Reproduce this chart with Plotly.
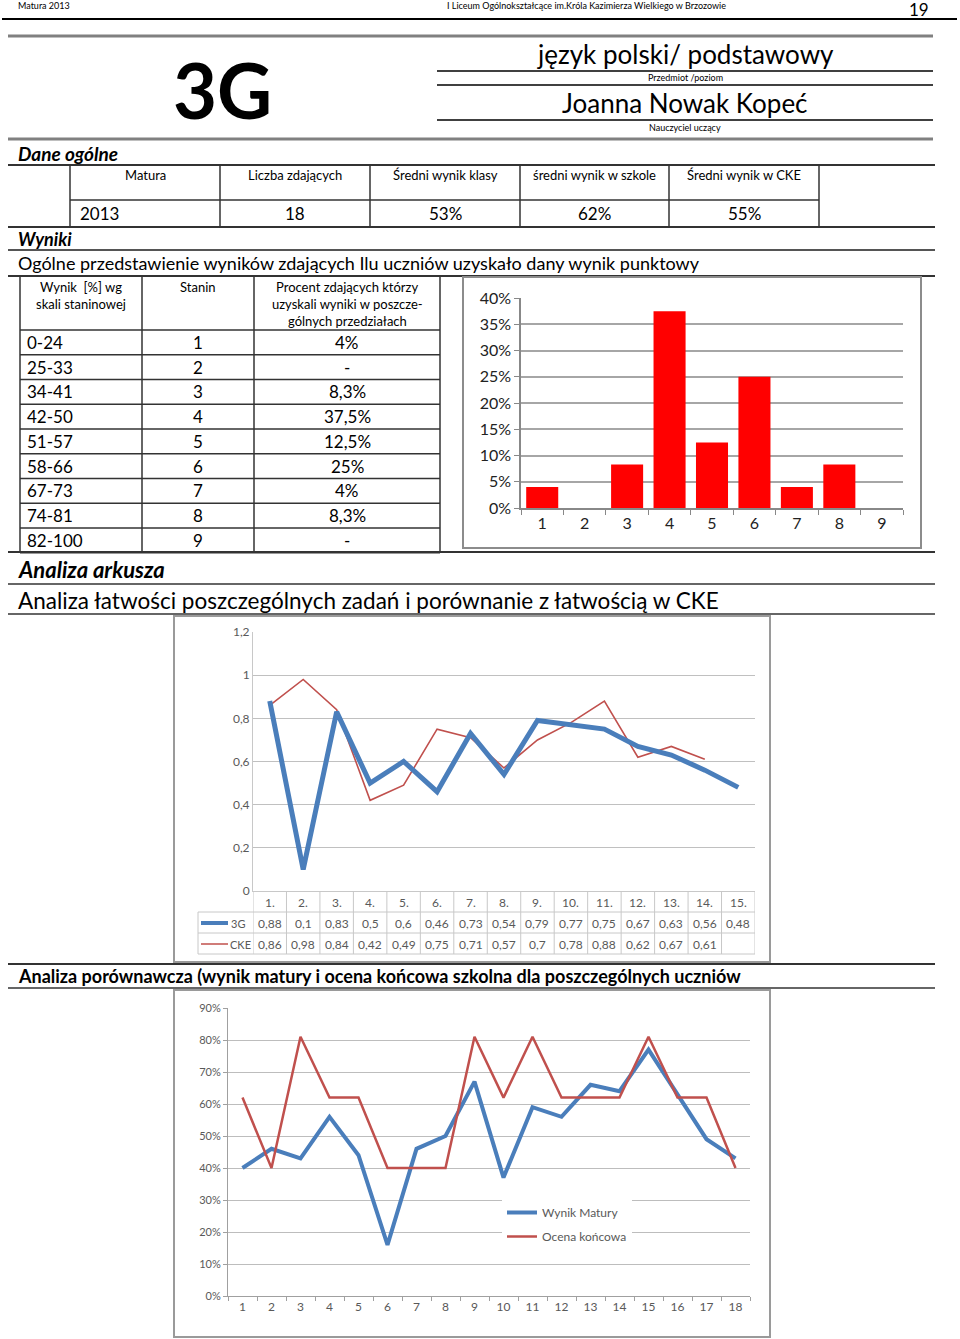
import plotly.graph_objects as go

W, H = 960, 1339
FONT = "Lato"

# ---------------- data ----------------
page_left = "Matura 2013"
page_center = "I Liceum Ogólnokształcące im.Króla Kazimierza Wielkiego w Brzozowie"
page_no = "19"
class_name = "3G"
subject = "język polski/ podstawowy"
subject_lbl = "Przedmiot /poziom"
teacher = "Joanna Nowak Kopeć"
teacher_lbl = "Nauczyciel uczący"

gen_headers = ["Matura", "Liczba zdających", "Średni wynik klasy", "średni wynik w szkole", "Średni wynik w CKE"]
gen_values = ["2013", "18", "53%", "62%", "55%"]

stanine_ranges = ["0-24", "25-33", "34-41", "42-50", "51-57", "58-66", "67-73", "74-81", "82-100"]
stanines = ["1", "2", "3", "4", "5", "6", "7", "8", "9"]
stanine_pct_text = ["4%", "-", "8,3%", "37,5%", "12,5%", "25%", "4%", "8,3%", "-"]
stanine_pct = [4, None, 8.3, 37.5, 12.5, 25, 4, 8.3, None]

tasks = ["1.", "2.", "3.", "4.", "5.", "6.", "7.", "8.", "9.", "10.", "11.", "12.", "13.", "14.", "15."]
ease_3g = [0.88, 0.1, 0.83, 0.5, 0.6, 0.46, 0.73, 0.54, 0.79, 0.77, 0.75, 0.67, 0.63, 0.56, 0.48]
ease_cke = [0.86, 0.98, 0.84, 0.42, 0.49, 0.75, 0.71, 0.57, 0.7, 0.78, 0.88, 0.62, 0.67, 0.61, None]

students = [str(i) for i in range(1, 19)]
wynik_matury = [40, 46, 43, 56, 44, 16, 46, 50, 67, 37, 59, 56, 66, 64, 77, 63, 49, 43]
ocena_koncowa = [62, 40, 81, 62, 62, 40, 40, 40, 81, 62, 81, 62, 62, 62, 81, 62, 62, 40]

BLUE = "#4A7EBB"
RED = "#C0504D"
TXT = "#595959"
TGRID = "#C8C8C8"

# ---------------- helpers ----------------
def px(x):
    return x / W

def py(y):
    return 1 - y / H

shapes = []
ann = []

def hline(y, x0, x1, color="#000", width=1):
    shapes.append(dict(type="line", xref="paper", yref="paper", x0=px(x0), x1=px(x1),
                       y0=py(y), y1=py(y), line=dict(color=color, width=width)))

def vline(x, y0, y1, color="#000", width=1):
    shapes.append(dict(type="line", xref="paper", yref="paper", x0=px(x), x1=px(x),
                       y0=py(y0), y1=py(y1), line=dict(color=color, width=width)))

def rect(x0, y0, x1, y1, color="#8C8C8C", width=2):
    shapes.append(dict(type="rect", xref="paper", yref="paper", x0=px(x0), x1=px(x1),
                       y0=py(y1), y1=py(y0), line=dict(color=color, width=width)))

def text(x, y, s, size, anchor="left", color="#000", family=FONT, yanchor="middle"):
    ann.append(dict(x=px(x), y=py(y), xref="paper", yref="paper", text=s, showarrow=False,
                    xanchor=anchor, yanchor=yanchor, font=dict(size=size, color=color, family=family)))

fig = go.Figure()

# ---------------- page header ----------------
text(16, 6, page_left, 9)
text(586, 6, page_center, 9, anchor="center")
text(919, 10, page_no, 17, anchor="center")
hline(19, 2, 957, "#000", 2)

hline(36, 8, 933, "#808080", 3)
text(222, 90, "<b>" + class_name + "</b>", 76, anchor="center")
text(685, 54, subject, 26, anchor="center")
hline(71, 437, 933, "#000", 1.5)
text(685, 78, subject_lbl, 9, anchor="center")
hline(85, 437, 933, "#000", 1.5)
text(685, 103, teacher, 26, anchor="center")
hline(120, 437, 933, "#000", 1.5)
text(685, 127, teacher_lbl, 9, anchor="center")
hline(139, 8, 933, "#808080", 3)

# ---------------- Dane ogólne ----------------
text(16, 153, "<b><i>Dane ogólne</i></b>", 19)
hline(165, 8, 935, "#333", 2)
cols = [70, 220, 370, 520, 669, 819]
for x in cols:
    vline(x, 165, 227, "#333", 1.5)
hline(200, 70, 819, "#333", 1.5)
hline(227, 8, 935, "#333", 2)
for i, (h, v) in enumerate(zip(gen_headers, gen_values)):
    xc = (cols[i] + cols[i + 1]) / 2
    text(xc, 175, h, 13, anchor="center")
    if i == 0:
        text(cols[i] + 8, 213, v, 17)
    else:
        text(xc, 213, v, 17, anchor="center")

# ---------------- Wyniki ----------------
text(16, 239, "<b><i>Wyniki</i></b>", 18)
hline(250, 8, 935, "#555", 2)
text(16, 263, "Ogólne przedstawienie wyników zdających Ilu uczniów uzyskało dany wynik punktowy", 18)
hline(276, 8, 935, "#333", 2)

# stanine table
tcols = [20, 142, 254, 440]
row0 = 330
rh = 24.75
for x in tcols:
    vline(x, 277, row0 + 9 * rh, "#333", 1.5)
hline(row0, 20, 440, "#333", 1.5)
for r in range(1, 10):
    hline(row0 + r * rh, 20, 440, "#333", 1.5)
text(81, 287, "Wynik  [%] wg", 13, anchor="center")
text(81, 304, "skali staninowej", 13, anchor="center")
text(198, 287, "Stanin", 13, anchor="center")
text(347, 287, "Procent zdających którzy", 13, anchor="center")
text(347, 304, "uzyskali wyniki w poszcze-", 13, anchor="center")
text(347, 321, "gólnych przedziałach", 13, anchor="center")
for r in range(9):
    yc = row0 + (r + 0.5) * rh
    text(25, yc, stanine_ranges[r], 17)
    text(198, yc, stanines[r], 17, anchor="center")
    text(347, yc, stanine_pct_text[r], 17, anchor="center")

# bar chart frame
rect(463, 277, 921, 548, "#8C8C8C", 2)
fig.add_trace(go.Bar(x=stanines, y=stanine_pct, marker=dict(color="#FF0000", line=dict(width=0)),
                     xaxis="x", yaxis="y", showlegend=False))

hline(552, 8, 935, "#333", 2)

# ---------------- Analiza arkusza ----------------
text(16, 569, "<b><i>Analiza arkusza</i></b>", 22)
hline(584, 8, 935, "#333", 1.5)
text(16, 600, "Analiza łatwości poszczególnych zadań i porównanie z łatwością w CKE", 22.5)
hline(614, 8, 935, "#333", 1.5)

# chart 1 frame
rect(174, 616, 770, 962, "#9A9A9A", 2)
x_idx = list(range(1, 16))
fig.add_trace(go.Scatter(x=x_idx, y=ease_cke, mode="lines", line=dict(color=RED, width=1.6),
                         xaxis="x2", yaxis="y2", showlegend=False, connectgaps=False))
fig.add_trace(go.Scatter(x=x_idx, y=ease_3g, mode="lines", line=dict(color=BLUE, width=5),
                         xaxis="x2", yaxis="y2", showlegend=False))

# chart 1 data table
t_rows = [891, 912, 933, 954]
for k in range(16):
    xb = k + 0.5
    shapes.append(dict(type="line", xref="x2", yref="paper", x0=xb, x1=xb, y0=py(954), y1=py(891),
                       line=dict(color=TGRID, width=1)))
vline(198, 912, 954, TGRID, 1)
for yy in t_rows[1:]:
    shapes.append(dict(type="line", xref="paper", yref="paper", x0=px(198), x1=px(755),
                       y0=py(yy), y1=py(yy), line=dict(color=TGRID, width=1)))
for i, lab in enumerate(tasks):
    ann.append(dict(x=i + 1, y=py(902), xref="x2", yref="paper", text=lab, showarrow=False,
                    xanchor="center", yanchor="middle", font=dict(size=12, color=TXT, family=FONT)))
    ann.append(dict(x=i + 1, y=py(923), xref="x2", yref="paper",
                    text=str(ease_3g[i]).replace(".", ","), showarrow=False,
                    xanchor="center", yanchor="middle", font=dict(size=12, color=TXT, family=FONT)))
    if ease_cke[i] is not None:
        ann.append(dict(x=i + 1, y=py(944), xref="x2", yref="paper",
                        text=str(ease_cke[i]).replace(".", ","), showarrow=False,
                        xanchor="center", yanchor="middle", font=dict(size=12, color=TXT, family=FONT)))
# legend keys in table
hline(923, 201, 228, BLUE, 4)
text(229, 923, "3G", 11, color=TXT)
hline(944, 201, 228, RED, 1.5)
text(228, 944, "CKE", 11, color=TXT)

hline(964, 8, 935, "#333", 2)

# ---------------- Analiza porównawcza ----------------
text(16, 976, "<b>Analiza porównawcza (wynik matury i ocena końcowa szkolna dla poszczególnych uczniów</b>", 18)
hline(988, 8, 935, "#333", 1.5)

rect(174, 990, 770, 1337, "#9A9A9A", 2)
fig.add_trace(go.Scatter(x=students, y=wynik_matury, mode="lines", name="Wynik Matury",
                         legendgroup="a", line=dict(color=BLUE, width=4), xaxis="x3", yaxis="y3"))
fig.add_trace(go.Scatter(x=students, y=ocena_koncowa, mode="lines", name="Ocena końcowa",
                         legendgroup="b", line=dict(color=RED, width=2.5), xaxis="x3", yaxis="y3"))

fig.update_layout(
    template="none",
    width=W, height=H, autosize=False,
    margin=dict(l=0, r=0, t=0, b=0, pad=0, autoexpand=False),
    paper_bgcolor="white", plot_bgcolor="white",
    separators=", ",
    font=dict(family=FONT, color="#000"),
    shapes=shapes, annotations=ann,
    bargap=0.245,
    showlegend=True,
    legend=dict(x=px(502), y=py(1198), xanchor="left", yanchor="top", bgcolor="white",
                borderwidth=0, font=dict(size=12, color=TXT, family=FONT), tracegroupgap=5,
                traceorder="grouped"),
    # bar chart axes
    xaxis=dict(domain=[px(521), px(903)], anchor="y", type="category", tickson="boundaries",
               range=[-0.5, 8.5], automargin=False,
               ticks="outside", ticklen=5, tickcolor="#888", showline=True, linecolor="#888",
               linewidth=1.5, showgrid=False, tickfont=dict(size=16, color="#222", family=FONT),
               fixedrange=True),
    yaxis=dict(domain=[py(508), py(298)], anchor="x", range=[0, 40], dtick=5, ticksuffix="%",
               automargin=False,
               showgrid=True, gridcolor="#A6A6A6", gridwidth=1.5, showline=True, linecolor="#888",
               linewidth=1.5, ticks="outside", ticklen=5, tickcolor="#888", zeroline=False,
               tickfont=dict(size=16, color="#222", family=FONT), fixedrange=True),
    # chart 1 axes
    xaxis2=dict(domain=[px(253), px(755)], anchor="y2", range=[0.5, 15.5], showticklabels=False,
                automargin=False,
                showgrid=False, zeroline=False, showline=True, linecolor=TGRID, ticks=""),
    yaxis2=dict(domain=[py(891), py(632)], anchor="x2", range=[0, 1.2], dtick=0.2,
                automargin=False,
                showgrid=True, gridcolor="#C0C0C0", gridwidth=1.2, zeroline=False, showline=True,
                linecolor=TGRID, ticks="", tickfont=dict(size=12, color=TXT, family=FONT)),
    # chart 2 axes
    xaxis3=dict(domain=[px(228), px(750)], anchor="y3", type="category", tickson="boundaries",
                range=[-0.5, 17.5], automargin=False,
                ticks="outside", ticklen=4, tickcolor="#A0A0A0", showline=True, linecolor="#A0A0A0",
                showgrid=False, tickfont=dict(size=12, color=TXT, family=FONT)),
    yaxis3=dict(domain=[py(1296), py(1008)], anchor="x3", range=[0, 90], dtick=10, ticksuffix="%",
                automargin=False,
                showgrid=True, gridcolor="#BDBDBD", gridwidth=1.2, zeroline=False, showline=True,
                linecolor="#A0A0A0", ticks="outside", ticklen=4, tickcolor="#A0A0A0",
                tickfont=dict(size=11, color=TXT, family=FONT)),
)

fig.write_html("out.html", config={"displayModeBar": False},
               post_script="document.body.style.margin='0';document.body.style.overflow='hidden';")
